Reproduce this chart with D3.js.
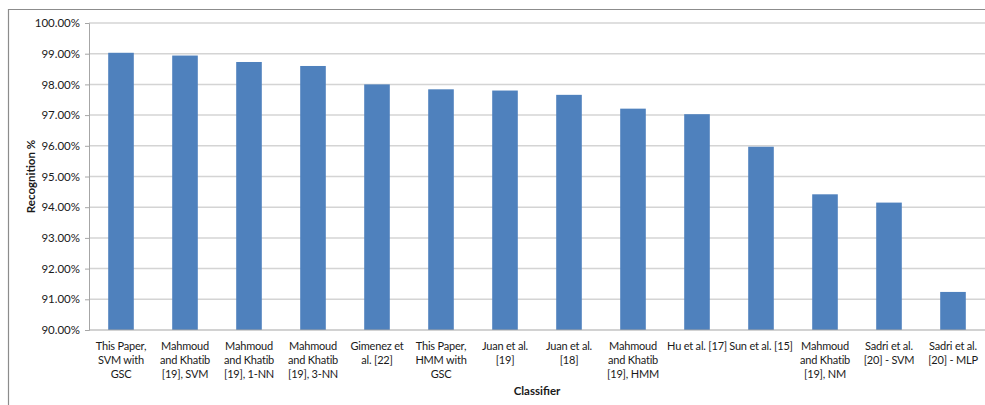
<html>
<head>
<style>
  body { margin: 0; background: #fff; }
  text { font-family: Lato, "Open Sans", sans-serif; fill: #1a1a1a; }
</style>
</head>
<body>
<script src="https://d3js.org/d3.v7.min.js"></script>
<svg width="985" height="405"></svg>
<script type="text/javascript">
// categories, line breaks marked with \n
var classifiers = [
    "This Paper,\nSVM with\nGSC",
    "Mahmoud\nand Khatib\n[19], SVM",
    "Mahmoud\nand Khatib\n[19], 1-NN",
    "Mahmoud\nand Khatib\n[19], 3-NN",
    "Gimenez et\nal. [22]",
    "This Paper,\nHMM with\nGSC",
    "Juan et al.\n[19]",
    "Juan et al.\n[18]",
    "Mahmoud\nand Khatib\n[19], HMM",
    "Hu et al. [17]",
    "Sun et al. [15]",
    "Mahmoud\nand Khatib\n[19], NM",
    "Sadri et al.\n[20] - SVM",
    "Sadri et al.\n[20] - MLP"
];
var recognition = [99.03, 98.94, 98.73, 98.60, 98.00, 97.84, 97.80, 97.66, 97.21, 97.03, 95.97, 94.42, 94.15, 91.24];
var yTicks = [90, 91, 92, 93, 94, 95, 96, 97, 98, 99, 100];

var margin = {top: 23, right: 0, bottom: 75, left: 89},
    width = 985 - margin.left - margin.right,
    height = 405 - margin.top - margin.bottom;

var svg = d3.select("svg");

// outer chart frame (runs off the right and bottom of the picture)
svg.append("path")
    .attr("d", "M8.5,420 V9.5 H1000")
    .style("fill", "none")
    .style("stroke", "#8c8c8c")
    .style("stroke-width", 1.2);

var g = svg.append("g")
    .attr("transform", "translate(" + margin.left + "," + margin.top + ")");

var x = d3.scaleBand()
    .domain(classifiers)
    .range([0, width])
    .paddingInner(0.6)
    .paddingOuter(0.3);

var y = d3.scaleLinear()
    .domain([90, 100])
    .range([height, 0]);

// gridlines
g.selectAll(".grid").data(yTicks.slice(1)).enter()
    .append("line")
    .attr("x1", 0)
    .attr("x2", width)
    .attr("y1", function(d) { return y(d); })
    .attr("y2", function(d) { return y(d); })
    .style("stroke", "#d4d4d4")
    .style("stroke-width", 1.5);

// bars
g.selectAll(".bar").data(recognition).enter()
    .append("rect")
    .attr("x", function(d, i) { return x(classifiers[i]); })
    .attr("width", x.bandwidth())
    .attr("y", function(d) { return y(d); })
    .attr("height", function(d) { return height - y(d); })
    .style("fill", "#4f81bd");

// y axis
var yAxis = g.append("g")
    .call(d3.axisLeft(y).tickValues(yTicks).tickSize(4).tickPadding(5)
        .tickFormat(function(d) { return d.toFixed(2) + "%"; }));
yAxis.select(".domain").style("stroke", "#a6a6a6");
yAxis.selectAll(".tick line").style("stroke", "#a6a6a6");
yAxis.selectAll("text")
    .style("font-size", "11.5px")
    .style("fill", "#1a1a1a");

// x axis line
g.append("line")
    .attr("x1", 0)
    .attr("x2", width)
    .attr("y1", height)
    .attr("y2", height)
    .style("stroke", "#a6a6a6")
    .style("stroke-width", 1.2);

// category labels
var labels = g.selectAll(".xlabel").data(classifiers).enter()
    .append("text")
    .attr("text-anchor", "middle")
    .attr("transform", function(d) { return "translate(" + (x(d) + x.bandwidth() / 2) + "," + (height + 20) + ")"; })
    .style("font-size", "11px")
    .style("letter-spacing", "-0.2px");
labels.selectAll("tspan").data(function(d) { return d.split("\n"); }).enter()
    .append("tspan")
    .attr("x", 0)
    .attr("dy", function(d, i) { return i === 0 ? 0 : 13.8; })
    .text(function(d) { return d; });

// axis titles
g.append("text")
    .attr("x", width / 2)
    .attr("y", height + 65)
    .attr("text-anchor", "middle")
    .style("font-size", "11.5px")
    .style("font-weight", "bold")
    .text("Classifier");

g.append("text")
    .attr("transform", "translate(" + (-54) + "," + (height / 2) + ") rotate(-90)")
    .attr("text-anchor", "middle")
    .style("font-size", "11.5px")
    .style("font-weight", "bold")
    .text("Recognition %");
</script>
</body>
</html>
